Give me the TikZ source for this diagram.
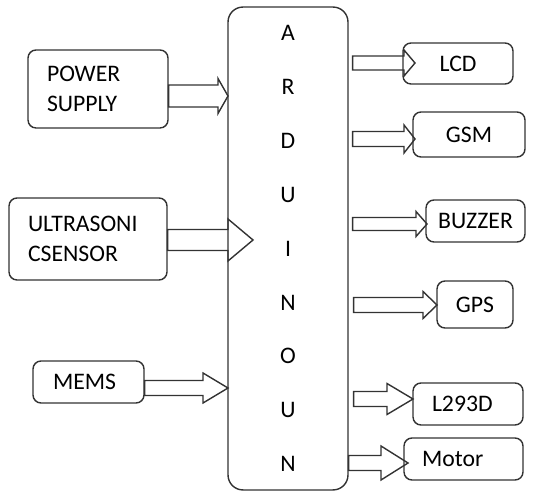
\documentclass[tikz,border=0pt]{standalone}
\usepackage{fontspec}
\setmainfont{Carlito}
\usetikzlibrary{calc}

\tikzset{
  box/.style={draw=black!80, line width=0.8pt, rounded corners=0.16cm,
    font=\fontsize{13.5}{17.5}\selectfont},
  fat/.style={draw=black!80, line width=0.8pt},
}
\newcommand{\fatarrow}[6][0]{%
  \path (#2 |- #3) ++(#1,0) coordinate (fa-s);
  \draw[fat] ($(fa-s)+(0,-#4)$) -- ($(#3)+(-#6,-#4)$) -- ($(#3)+(-#6,-#5)$) -- (#3)
    -- ($(#3)+(-#6,#5)$) -- ($(#3)+(-#6,#4)$) -- ($(fa-s)+(0,#4)$) -- cycle;}

\begin{document}
\begin{tikzpicture}[x=0.02cm, y=-0.02cm]
        \useasboundingbox (0,0) rectangle (533,492);

        \node[box, minimum width=2.4cm, minimum height=9.66cm, rounded corners=0.3cm, align=center,
          font=\fontsize{13.5}{30.7}\selectfont] (ard) at (288,248.5) {A\\R\\D\\U\\I\\N\\O\\U\\N};

        \node[box, align=left, text width=2.04cm, inner xsep=0.38cm, minimum height=1.56cm] (psu) at (98,89) {POWER\\SUPPLY};
        \node[box, align=left, text width=2.4cm, inner xsep=0.38cm, minimum height=1.64cm] (us) at (88,239) {ULTRASONI\\CSENSOR};
        \node[box, align=left, text width=1.42cm, inner xsep=0.4cm, minimum height=0.84cm] (mems) at (88.5,382) {MEMS};

        \node[box, minimum width=2.2cm, minimum height=0.82cm] (lcd) at (458,63.5) {LCD};
        \node[box, minimum width=2.24cm, minimum height=0.9cm] (gsm) at (469,134.5) {GSM};
        \node[box, minimum width=1.98cm, minimum height=0.84cm] (buzzer) at (475.5,221) {BUZZER};
        \node[box, minimum width=1.52cm, minimum height=0.94cm] (gps) at (475,304.5) {GPS};
        \node[box, align=left, text width=1.44cm, inner xsep=0.38cm, minimum height=0.84cm] (l293d) at (468,404) {L293D};
        \node[box, align=left, text width=1.66cm, inner xsep=0.36cm, minimum height=0.84cm] (motor) at (463.5,459) {Motor};

        \coordinate (tpsu) at (228,96);
        \coordinate (tus) at (253,240);
        \coordinate (tmems) at (228,388);
        \coordinate (tlcd) at (415,63);
        \coordinate (tgsm) at (415,139);
        \coordinate (tbuzzer) at (427,224);
        \coordinate (tgps) at (437,305);
        \coordinate (tl293d) at (413,399);
        \coordinate (tmotor) at (408,463);

        \fatarrow{psu.east}{tpsu}{11}{17.5}{10}
        \fatarrow{us.east}{tus}{10.5}{21}{25}
        \fatarrow{mems.east}{tmems}{7.5}{15}{25}
        \fatarrow[4]{ard.east}{tlcd}{7}{13}{11}
        \fatarrow[4]{ard.east}{tgsm}{7.5}{14}{11}
        \fatarrow[4]{ard.east}{tbuzzer}{6.5}{12.5}{11}
        \fatarrow[5]{ard.east}{tgps}{7.5}{13.5}{14}
        \fatarrow[5]{ard.east}{tl293d}{7.5}{15.5}{26}
        \fatarrow{ard.east}{tmotor}{7.5}{17}{27}
    \end{tikzpicture}
\end{document}
